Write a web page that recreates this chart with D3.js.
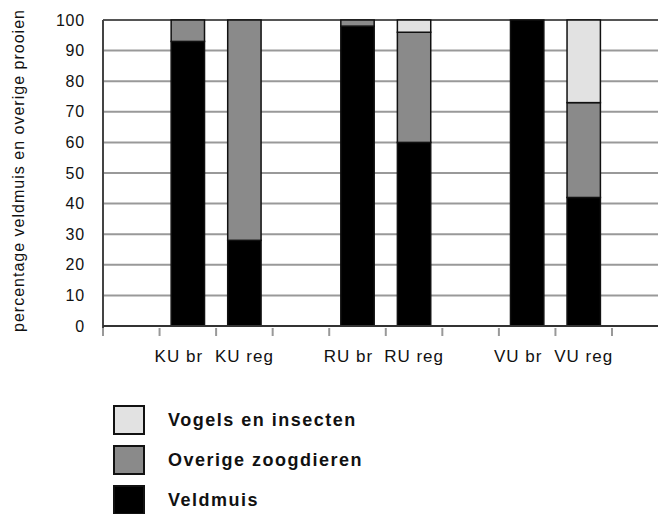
<!DOCTYPE html>
<html>
<head>
<meta charset="utf-8">
<script src="https://cdn.jsdelivr.net/npm/d3@7"></script>
<style>
  body { margin: 0; background: #fff; }
  svg { font-family: "Liberation Sans", Arial, sans-serif; }
</style>
</head>
<body>
<svg width="658" height="514"></svg>
<script>
// slots on the x axis (null = empty slot between groups)
var slots = [null, "KU br", "KU reg", null, "RU br", "RU reg", null, "VU br", "VU reg"];
var categories = ["KU br", "KU reg", "RU br", "RU reg", "VU br", "VU reg"];
var veldmuis = [93, 28, 98, 60, 100, 42];
var overigeZoogdieren = [7, 72, 2, 36, 0, 31];
var vogelsInsecten = [0, 0, 0, 4, 0, 27];
var seriesNames = ["Veldmuis", "Overige zoogdieren", "Vogels en insecten"];
var yTicks = [0, 10, 20, 30, 40, 50, 60, 70, 80, 90, 100];
var yLabel = "percentage veldmuis en overige prooien";

var colors = { "Veldmuis": "#000", "Overige zoogdieren": "#8a8a8a", "Vogels en insecten": "#e2e2e2" };

var svg = d3.select("svg");

var x = d3.scaleBand()
  .domain(d3.range(slots.length))
  .range([103, 612])
  .paddingInner(0.41)
  .paddingOuter(0.205);

var y = d3.scaleLinear().domain([0, 100]).range([326, 20]);

// gridlines
svg.append("g")
  .selectAll("line")
  .data(yTicks)
  .join("line")
  .attr("x1", 103)
  .attr("x2", 658)
  .attr("y1", d => y(d))
  .attr("y2", d => y(d))
  .attr("stroke", d => d == 100 ? "#555" : "#999")
  .attr("stroke-width", 2);

// y tick labels
svg.append("g")
  .selectAll("text")
  .data(yTicks)
  .join("text")
  .attr("x", 85)
  .attr("y", d => y(d))
  .attr("dy", "0.35em")
  .attr("text-anchor", "end")
  .attr("font-size", 16)
  .attr("letter-spacing", 0.8)
  .attr("fill", "#111")
  .text(d => d);

// stacked data
var table = categories.map(function(c, i) {
  return { cat: c, "Veldmuis": veldmuis[i], "Overige zoogdieren": overigeZoogdieren[i], "Vogels en insecten": vogelsInsecten[i] };
});
var stack = d3.stack().keys(seriesNames)(table);

svg.append("g")
  .selectAll("g")
  .data(stack)
  .join("g")
  .attr("fill", d => colors[d.key])
  .selectAll("rect")
  .data(d => d.filter(p => p[1] - p[0] > 0))
  .join("rect")
  .attr("x", d => x(slots.indexOf(d.data.cat)))
  .attr("width", x.bandwidth())
  .attr("y", d => y(d[1]))
  .attr("height", d => y(d[0]) - y(d[1]))
  .attr("stroke", "#111")
  .attr("stroke-width", 1.5);

// axes lines
svg.append("line")
  .attr("x1", 103).attr("x2", 103)
  .attr("y1", 20).attr("y2", 336)
  .attr("stroke", "#444").attr("stroke-width", 2);
svg.append("line")
  .attr("x1", 103).attr("x2", 658)
  .attr("y1", y(0)).attr("y2", y(0))
  .attr("stroke", "#333").attr("stroke-width", 2);

// x ticks at slot boundaries
var step = x.step();
var bounds = d3.range(slots.length + 1).map(i => 103 + i * step);
svg.append("g")
  .selectAll("line")
  .data(bounds)
  .join("line")
  .attr("x1", d => d).attr("x2", d => d)
  .attr("y1", 328).attr("y2", 336)
  .attr("stroke", "#999").attr("stroke-width", 2);

// x labels ("br" labels sit a little to the left in the original)
svg.append("g")
  .selectAll("text")
  .data(categories)
  .join("text")
  .attr("x", d => x(slots.indexOf(d)) + x.bandwidth() / 2 + (d.endsWith("br") ? -9 : 0))
  .attr("y", 362)
  .attr("text-anchor", "middle")
  .attr("font-size", 17)
  .attr("letter-spacing", 1)
  .attr("fill", "#111")
  .text(d => d);

// y axis label
svg.append("text")
  .attr("transform", "translate(24,171) rotate(-90)")
  .attr("text-anchor", "middle")
  .attr("font-size", 16)
  .attr("textLength", 322)
  .attr("fill", "#111")
  .text(yLabel);

// legend (top to bottom)
var legendItems = seriesNames.slice().reverse();
var lg = svg.append("g")
  .selectAll("g")
  .data(legendItems)
  .join("g")
  .attr("transform", (d, i) => "translate(114," + (406 + i * 40) + ")");
lg.append("rect")
  .attr("width", 30).attr("height", 28)
  .attr("fill", d => colors[d])
  .attr("stroke", "#111").attr("stroke-width", 2);
lg.append("text")
  .attr("x", 54)
  .attr("y", 14)
  .attr("dy", "0.35em")
  .attr("font-size", 18)
  .attr("font-weight", "bold")
  .attr("letter-spacing", 1.5)
  .attr("fill", "#111")
  .text(d => d);
</script>
</body>
</html>
